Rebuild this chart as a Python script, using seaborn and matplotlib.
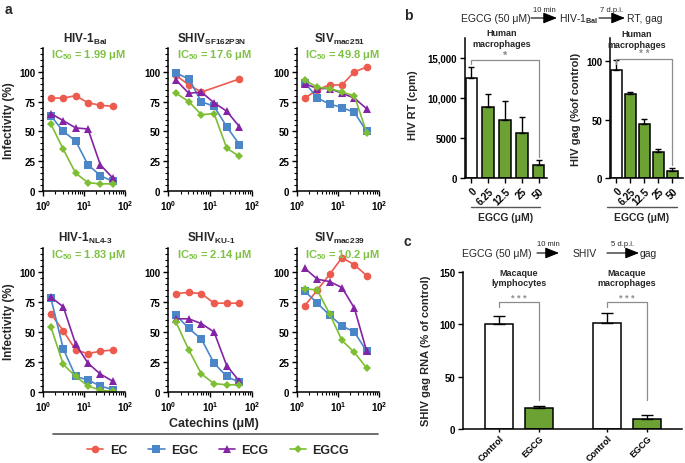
import numpy as np
import pandas as pd
import seaborn as sns
import matplotlib
matplotlib.use("Agg")
import matplotlib.pyplot as plt
from matplotlib.lines import Line2D
from matplotlib.ticker import MultipleLocator, FixedLocator, LogLocator

# ---------------- data ----------------
conc = [1.5625, 3.125, 6.25, 12.5, 25, 50]
compounds = ["EC", "EGC", "ECG", "EGCG"]

virus_titles = [r"HIV-1$_{\mathbf{Bal}}$", r"SHIV$_{\mathbf{SF162P3N}}$", r"SIV$_{\mathbf{mac251}}$",
                r"HIV-1$_{\mathbf{NL4\text{-}3}}$", r"SHIV$_{\mathbf{KU\text{-}1}}$", r"SIV$_{\mathbf{mac239}}$"]
ic50_values = ["1.99", "17.6", "49.8", "1.83", "2.14", "10.2"]

hiv_bal = {"EC": [78, 78, 80, 74, 72, 71], "EGC": [63, 50, 42, 22, 13, 8],
           "ECG": [65, 59, 53, 52, 22, 11], "EGCG": [56, 35, 15, 7, 6, 6]}
shiv_sf162 = {"EC": [97, 89, 83, np.nan, np.nan, 94], "EGC": [99, 94, 75, 71, 54, 39],
              "ECG": [93, 82, 83, 74, 67, 54], "EGCG": [82, 75, 64, 65, 36, 29]}
siv_mac251 = {"EC": [78, 85, 89, 89, 100, 104], "EGC": [91, 78, 73, 70, 66, 50],
              "ECG": [90, 86, 86, 82, 78, 69], "EGCG": [93, 87, 86, 83, 80, 49]}
hiv_nl43 = {"EC": [65, 51, 35, 32, 34, 35], "EGC": [78, 36, 13, 10, 5, 2],
            "ECG": [79, 71, 40, 24, 15, 9], "EGCG": [54, 23, 13, 5, 1.5, 0.5]}
shiv_ku1 = {"EC": [82, 83, 82, 74, 74, 74], "EGC": [64, 53, 44, 24, 13, 8],
            "ECG": [61, 61, 57, 50, 22, 9], "EGCG": [58, 35, 15, 7, 6, 6]}
siv_mac239 = {"EC": [72, 85, 98, 112, 106, 97], "EGC": [84, 74, 64, 55, 50, 34],
              "ECG": [103, 94, 92, 87, 70, 34], "EGCG": [86, 85, 65, 43, 33, 20]}
virus_data = [hiv_bal, shiv_sf162, siv_mac251, hiv_nl43, shiv_ku1, siv_mac239]

egcg_doses = ["0", "6.25", "12.5", "25", "50"]
rt_mean = [12450, 8830, 7290, 5580, 1625]
rt_err = [1380, 1670, 2290, 2000, 665]
gag_mean = [93, 72, 46, 22, 6]
gag_err = [8, 2, 5, 3, 2.5]

c_groups = ["Macaque\nlymphocytes", "Macaque\nmacrophages"]
c_treat = ["Control", "EGCG"]
c_mean = [[100, 20], [101, 10]]
c_err = [[8, 2], [10, 3]]

# ---------------- style ----------------
sns.set_theme(style="ticks")
plt.rcParams.update({
    "font.family": ["Liberation Sans", "DejaVu Sans"],
    "font.weight": "bold",
    "axes.linewidth": 1.1,
    "xtick.major.width": 1.0, "ytick.major.width": 1.0,
    "xtick.minor.width": 0.8, "ytick.minor.width": 0.8,
    "xtick.major.size": 3.5, "ytick.major.size": 3.5,
    "xtick.minor.size": 2.0, "ytick.minor.size": 2.0,
    "xtick.labelsize": 7, "ytick.labelsize": 7,
    "xtick.color": "black", "ytick.color": "black",
    "axes.edgecolor": "black",
    "xtick.major.pad": 2, "ytick.major.pad": 2,
    "mathtext.fontset": "custom",
    "mathtext.rm": "Liberation Sans:bold",
    "mathtext.bf": "Liberation Sans:bold",
    "mathtext.it": "Liberation Sans:italic:bold",
    "mathtext.default": "rm",
})

palette = {"EC": "#EC5B4E", "EGC": "#4A86C8", "ECG": "#8424A4", "EGCG": "#7DBE32"}
markers = {"EC": "o", "EGC": "s", "ECG": "^", "EGCG": "D"}
msizes = {"EC": 5.5, "EGC": 5.5, "ECG": 5.5, "EGCG": 3.8}
bar_green = "#6DB520"
ic_green = "#7DC242"
gray = "#8C8C8C"

W, H = 685, 464
fig = plt.figure(figsize=(W / 100, H / 100), dpi=100)


def add_ax(l, t, r, b):
    return fig.add_axes([l / W, 1 - b / H, (r - l) / W, (b - t) / H])


# ---------------- panel a ----------------
cols = [(43, 125), (168, 252), (297, 379)]
rows = [(49, 192), (249, 393)]
for i, (title, ic, d) in enumerate(zip(virus_titles, ic50_values, virus_data)):
    r, c = divmod(i, 3)
    ax = add_ax(cols[c][0], rows[r][0], cols[c][1], rows[r][1])
    recs = []
    for comp in compounds:
        for x, y in zip(conc, d[comp]):
            recs.append({"compound": comp, "conc": x, "inf": y})
    df = pd.DataFrame(recs).dropna()
    for comp in compounds:
        sub = df[df["compound"] == comp]
        sns.lineplot(data=sub, x="conc", y="inf", color=palette[comp], marker=markers[comp],
                     markersize=msizes[comp], markeredgewidth=0, linewidth=1.2,
                     errorbar=None, ax=ax, legend=False)
    ax.set_xscale("log")
    ax.set_xlim(1, 100)
    ax.set_ylim(0, 120)
    ax.xaxis.set_major_locator(FixedLocator([1, 10, 100]))
    ax.set_xticklabels([r"$10^{0}$", r"$10^{1}$", r"$10^{2}$"])
    ax.xaxis.set_minor_locator(LogLocator(base=10, subs=np.arange(2, 10)))
    ax.set_yticks([0, 25, 50, 75, 100])
    ax.yaxis.set_minor_locator(MultipleLocator(5))
    ax.set_yticklabels(["0", "25", "50", "75", "100"])
    ax.set_xlabel("")
    ax.set_ylabel("")
    sns.despine(ax=ax)
    ax.text(0.52, 1.07, title, transform=ax.transAxes, ha="center", va="center",
            fontsize=8.5, fontweight="bold")
    ax.text(0.55, 0.955, r"IC$_{50}$ = " + ic + " μM", transform=ax.transAxes,
            ha="center", va="center", fontsize=8, fontweight="bold", color=ic_green)


# ---------------- panel b ----------------
def bar_centers(ax):
    ps = sorted(ax.patches, key=lambda p: p.get_x())
    return np.array([p.get_x() + p.get_width() / 2 for p in ps])


axb1 = add_ax(465, 39, 547, 179)
sns.barplot(x=egcg_doses, y=rt_mean, hue=egcg_doses,
            palette=["white"] + [bar_green] * 4, edgecolor="black", linewidth=1.1,
            width=0.68, ax=axb1, legend=False)
cb1 = bar_centers(axb1)
axb1.errorbar(cb1, rt_mean, yerr=[np.zeros(5), rt_err], fmt="none", ecolor="black",
              elinewidth=1.0, capsize=2.5, capthick=1.0)
axb1.set_ylim(0, 17500)
axb1.set_xlim(-0.38, 4.5)
axb1.set_yticks([0, 5000, 10000, 15000])
axb1.set_yticklabels(["0", "5000", "10,000", "15,000"])
axb1.set_xticks(cb1)
axb1.set_xticklabels(egcg_doses, rotation=45, ha="right", rotation_mode="anchor")
sns.despine(ax=axb1)
axb1.plot([cb1[0], cb1[0], cb1[-1], cb1[-1]], [14250, 14750, 14750, 2600], color=gray, lw=0.9)
axb1.text((cb1[0] + cb1[-1]) / 2, 14800, "*", ha="center", va="bottom", color=gray, fontsize=8)

axb2 = add_ax(610, 39, 683, 179)
sns.barplot(x=egcg_doses, y=gag_mean, hue=egcg_doses,
            palette=["white"] + [bar_green] * 4, edgecolor="black", linewidth=1.1,
            width=0.78, ax=axb2, legend=False)
cb2 = bar_centers(axb2)
axb2.errorbar(cb2, gag_mean, yerr=[np.zeros(5), gag_err], fmt="none", ecolor="black",
              elinewidth=1.0, capsize=2.5, capthick=1.0)
axb2.set_ylim(0, 120)
axb2.set_xlim(-0.46, 4.75)
axb2.set_yticks([0, 50, 100])
axb2.set_xticks(cb2)
axb2.set_xticklabels(egcg_doses, rotation=45, ha="right", rotation_mode="anchor")
sns.despine(ax=axb2)
axb2.plot([cb2[0], cb2[0], cb2[-1], cb2[-1]], [98, 102, 102, 11], color=gray, lw=0.9)
axb2.text((cb2[0] + cb2[-1]) / 2, 102.5, "* *", ha="center", va="bottom", color=gray, fontsize=7)

# ---------------- panel c ----------------
axc = add_ax(463, 273, 682, 430)
crec = []
for g, means in zip(c_groups, c_mean):
    for t, m in zip(c_treat, means):
        crec.append({"group": g, "treat": t, "val": m})
dfc = pd.DataFrame(crec)
sns.barplot(data=dfc, x="group", y="val", hue="treat",
            palette={"Control": "white", "EGCG": bar_green}, edgecolor="black",
            linewidth=1.1, width=0.74, gap=0.3, ax=axc, legend=False)
cc = bar_centers(axc)
cvals = [v for row in c_mean for v in row]
cerrs = [v for row in c_err for v in row]
axc.errorbar(cc, cvals, yerr=[np.zeros(4), cerrs], fmt="none", ecolor="black",
             elinewidth=1.0, capsize=4, capthick=1.0)
axc.set_ylim(0, 150)
axc.set_xlim(-0.52, 1.51)
axc.set_yticks([0, 50, 100, 150])
axc.set_xticks(cc)
axc.set_xticklabels(c_treat * 2, rotation=45, ha="right", rotation_mode="anchor", fontsize=6.5)
axc.tick_params(axis="x", length=2, pad=1)
axc.set_xlabel("")
axc.set_ylabel("")
sns.despine(ax=axc)
for k in range(2):
    x0, x1 = cc[2 * k], cc[2 * k + 1]
    axc.plot([x0, x0, x1, x1], [116.5, 121, 121, 28], color=gray, lw=0.9)
    axc.text((x0 + x1) / 2, 126, "* * *", ha="center", va="center", color=gray, fontsize=6.5)
    axc.text((x0 + x1) / 2, 144.5, c_groups[k], ha="center", va="center", fontsize=6.5,
             fontweight="bold", linespacing=1.1)

# ---------------- overlay annotations ----------------
ov = fig.add_axes([0, 0, 1, 1])
ov.set_xlim(0, W)
ov.set_ylim(H, 0)
ov.axis("off")
ov.patch.set_alpha(0)

ov.text(5, 10, "a", fontsize=10, fontweight="bold", ha="left", va="center")
ov.text(408, 16, "b", fontsize=10, fontweight="bold", ha="center", va="center")
ov.text(407, 242, "c", fontsize=10, fontweight="bold", ha="center", va="center")

ov.text(9, 121, "Infectivity (%)", rotation=90, ha="center", va="center", fontsize=8.5, fontweight="bold")
ov.text(9, 322, "Infectivity (%)", rotation=90, ha="center", va="center", fontsize=8.5, fontweight="bold")
ov.text(214, 424, "Catechins (μM)", ha="center", va="center", fontsize=9, fontweight="bold")
ov.plot([53, 378], [435, 435], color="#555555", lw=1.2)

handles = [Line2D([0], [0], color=palette[c], marker=markers[c], markersize=msizes[c],
                  markeredgewidth=0, lw=1.2) for c in compounds]
fig.legend(handles, compounds, loc="center", bbox_to_anchor=(218 / W, 1 - 451 / H), ncol=4,
           frameon=False, handlelength=1.3, columnspacing=1.7, handletextpad=0.5,
           prop={"weight": "bold", "size": 9})

# panel b labels
ov.text(413, 105, "HIV RT (cpm)", rotation=90, ha="center", va="center", fontsize=8, fontweight="bold")
ov.text(576, 109, "HIV gag (%of control)", rotation=90, ha="center", va="center", fontsize=8, fontweight="bold")
ov.text(502, 39, "Human\nmacrophages", ha="center", va="center", fontsize=6.5, fontweight="bold", linespacing=1.15)
ov.text(637, 40, "Human\nmacrophages", ha="center", va="center", fontsize=6.5, fontweight="bold", linespacing=1.15)
for x0, x1 in [(471, 540), (607, 677)]:
    ov.plot([x0, x1], [208, 208], color="#555555", lw=1.0)
    ov.text((x0 + x1) / 2, 218, "EGCG (μM)", ha="center", va="center", fontsize=7.5, fontweight="bold")

# panel c label
ov.text(426, 351, "SHIV gag RNA (% of control)", rotation=90, ha="center", va="center",
        fontsize=8, fontweight="bold")

# schematics
arrow_kw = dict(arrowstyle="-|>,head_length=0.7,head_width=0.28", color="black", lw=0.8,
                shrinkA=0, shrinkB=0)


def schematic(y, items, arrows, labels):
    for x, s in items:
        ov.text(x, y, s, ha="left", va="center", fontsize=7.5, fontweight="normal")
    for (xa, xb), lab in zip(arrows, labels):
        ov.annotate("", xy=(xb, y), xytext=(xa, y), arrowprops=arrow_kw)
        ov.text((xa + xb) / 2, y - 9, lab, ha="center", va="center", fontsize=5.5, fontweight="normal")


schematic(19, [(461, "EGCG (50 μM)"), (559, r"HIV-1$_{\mathrm{Bal}}$"), (627, "RT, gag")],
          [(531, 557), (599, 625)], ["10 min", "7 d.p.i."])
schematic(254, [(462, "EGCG (50 μM)"), (573, "SHIV"), (640, "gag")],
          [(537, 559), (607, 639)], ["10 min", "5 d.p.i."])

fig.savefig("out.png", dpi=100)
